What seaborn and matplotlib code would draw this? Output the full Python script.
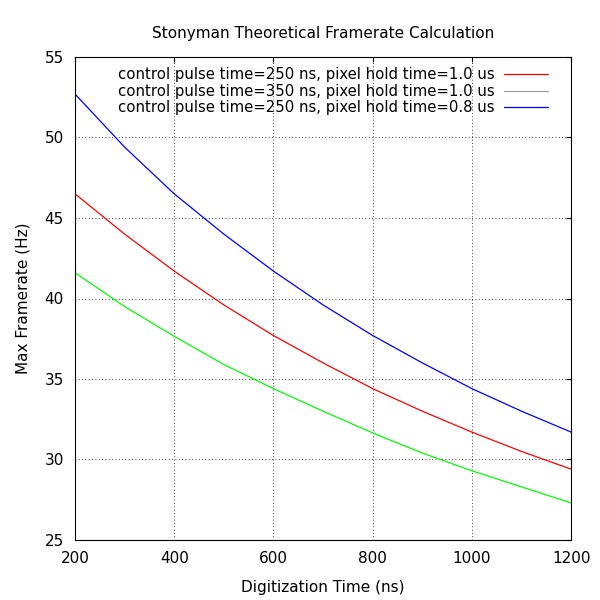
import matplotlib
matplotlib.use("Agg")
import matplotlib.pyplot as plt
from matplotlib.lines import Line2D
import seaborn as sns
import pandas as pd

digitization_ns = [200, 300, 400, 500, 600, 700, 800, 900, 1000, 1100, 1200]
rate_250_10 = [46.5, 44.0, 41.7, 39.6, 37.7, 36.0, 34.4, 33.0, 31.7, 30.5, 29.4]
rate_350_10 = [41.6, 39.5, 37.65, 35.9, 34.4, 33.0, 31.65, 30.4, 29.3, 28.3, 27.3]
rate_250_08 = [52.7, 49.4, 46.5, 44.0, 41.7, 39.6, 37.7, 36.0, 34.4, 33.0, 31.7]

labels = [
    "control pulse time=250 ns, pixel hold time=1.0 us",
    "control pulse time=350 ns, pixel hold time=1.0 us",
    "control pulse time=250 ns, pixel hold time=0.8 us",
]
line_colors = ["#ff0000", "#00ff00", "#0000ff"]
legend_colors = ["#ff0000", "#a0a0a0", "#0000ff"]

rows = []
for lab, vals in zip(labels, [rate_250_10, rate_350_10, rate_250_08]):
    for x, y in zip(digitization_ns, vals):
        rows.append({"x": x, "y": y, "series": lab})
df = pd.DataFrame(rows)

sns.set_style("white")
plt.rcParams["font.family"] = ["DejaVu Sans"]
plt.rcParams["text.color"] = "black"
fig = plt.figure(figsize=(6, 6), dpi=100)
ax = fig.add_axes([0.125, 0.1, 0.827, 0.805])

sns.lineplot(data=df, x="x", y="y", hue="series", palette=dict(zip(labels, line_colors)),
             linewidth=0.9, legend=False, ax=ax)

ax.set_xlim(200, 1200)
ax.set_ylim(25, 55)
ax.set_xticks(range(200, 1201, 200))
ax.set_yticks(range(25, 56, 5))
ax.grid(True, color="black", linestyle=(0, (1, 3)), linewidth=0.6)
ax.tick_params(direction="in", top=True, right=True, labelsize=11, pad=8,
               colors="black")
for s in ax.spines.values():
    s.set_color("black")
    s.set_linewidth(0.8)
ax.set_xlabel("Digitization Time (ns)", fontsize=11, labelpad=10, color="black")
ax.set_ylabel("Max Framerate (Hz)", fontsize=11, labelpad=10, color="black")
ax.set_title("Stonyman Theoretical Framerate Calculation", fontsize=11, pad=14)

handles = [Line2D([0], [0], color=c, lw=0.9) for c in legend_colors]
ax.legend(handles, labels, loc="upper right", frameon=False, markerfirst=False,
          fontsize=10.7, handlelength=3.0, handletextpad=0.6, labelspacing=0.1,
          borderaxespad=0.3, bbox_to_anchor=(0.975, 1.0))

fig.savefig("out.png", dpi=100)
